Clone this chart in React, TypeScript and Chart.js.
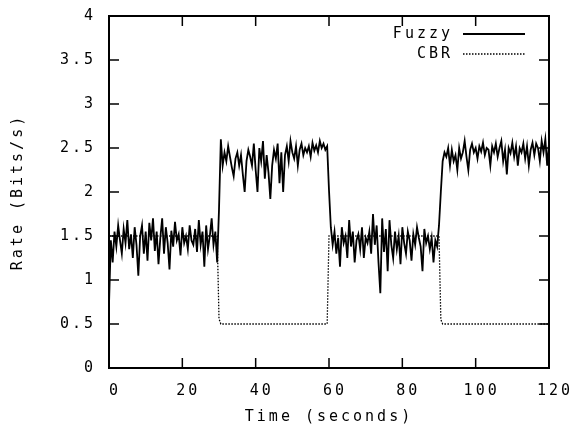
import { useEffect, useRef } from "react";
import { Chart, registerables } from "chart.js";

Chart.register(...registerables);

// ---- data ----
const SAMPLE_STEP = 0.5; // seconds between Fuzzy samples (starting at t = 0)

const fuzzyRates = [
  // 0 – 29.5 s
  0.72, 1.45, 1.2, 1.55, 1.38, 1.62, 1.45, 1.3, 1.58, 1.42,
  1.68, 1.35, 1.52, 1.25, 1.6, 1.4, 1.05, 1.5, 1.62, 1.3,
  1.55, 1.22, 1.65, 1.45, 1.7, 1.33, 1.55, 1.18, 1.48, 1.7,
  1.3, 1.6, 1.42, 1.12, 1.56, 1.38, 1.66, 1.45, 1.52, 1.28,
  1.6, 1.42, 1.5, 1.35, 1.62, 1.45, 1.4, 1.58, 1.32, 1.68,
  1.4, 1.55, 1.15, 1.62, 1.35, 1.5, 1.7, 1.4, 1.55, 1.2,
  // 30 – 59.5 s
  1.8, 2.6, 2.3, 2.45, 2.35, 2.52, 2.4, 2.28, 2.18, 2.38,
  2.45, 2.3, 2.42, 2.2, 2.0, 2.35, 2.48, 2.4, 2.3, 2.55,
  2.25, 2.0, 2.5, 2.35, 2.58, 2.15, 2.42, 2.22, 1.92, 2.3,
  2.48, 2.38, 2.55, 2.1, 2.45, 2.0, 2.42, 2.52, 2.35, 2.58,
  2.45, 2.38, 2.52, 2.3, 2.48, 2.55, 2.42, 2.5, 2.45, 2.52,
  2.4, 2.56, 2.47, 2.53, 2.45, 2.58, 2.5, 2.55, 2.48, 2.52,
  // 60 – 89.5 s
  2.02, 1.6, 1.4, 1.55, 1.3, 1.48, 1.15, 1.6, 1.42, 1.5,
  1.25, 1.68, 1.38, 1.55, 1.2, 1.45, 1.52, 1.35, 1.6, 1.25,
  1.48, 1.42, 1.55, 1.3, 1.75, 1.4, 1.62, 1.2, 0.85, 1.7,
  1.32, 1.58, 1.1, 1.68, 1.4, 1.25, 1.55, 1.35, 1.5, 1.18,
  1.6, 1.42, 1.3, 1.55, 1.45, 1.22, 1.52, 1.4, 1.6, 1.48,
  1.38, 1.1, 1.58, 1.42, 1.5, 1.35, 1.48, 1.2, 1.45, 1.38,
  // 90 – 120 s
  1.62, 2.0, 2.35, 2.45, 2.4, 2.5, 2.3, 2.48, 2.35, 2.42,
  2.25, 2.5, 2.38, 2.45, 2.58, 2.4, 2.25, 2.48, 2.55, 2.45,
  2.5, 2.38, 2.52, 2.46, 2.56, 2.42, 2.5, 2.48, 2.3, 2.52,
  2.45, 2.55, 2.4, 2.5, 2.58, 2.35, 2.48, 2.2, 2.5, 2.44,
  2.56, 2.4, 2.52, 2.3, 2.5, 2.45, 2.55, 2.38, 2.52, 2.3,
  2.48, 2.56, 2.42, 2.55, 2.5, 2.35, 2.58, 2.45, 2.6, 2.3,
  2.55,
];

const cbrTimes = [0, 29.5, 30, 30.5, 59.5, 60, 90, 90.5, 91, 120];
const cbrRates = [1.5, 1.5, 0.56, 0.5, 0.5, 1.5, 1.5, 0.55, 0.5, 0.5];

const seriesLabels = ["Fuzzy", "CBR"];
const xTitle = "Time (seconds)";
const yTitle = "Rate (Bits/s)";
const xRange = [0, 120];
const yRange = [0, 4];
const xStep = 20;
const yStep = 0.5;

// ---- style ----
const FONT_FAMILY = "'DejaVu Sans Mono', monospace";
const FONT_SIZE = 15;
const LETTER_SPACING = "3px";

const framePlugin = {
  id: "gnuplotFrame",
  beforeUpdate(chart: any) {
    chart.ctx.letterSpacing = LETTER_SPACING;
  },
  beforeLayout(chart: any) {
    chart.ctx.letterSpacing = LETTER_SPACING;
  },
  beforeDraw(chart: any) {
    chart.ctx.letterSpacing = LETTER_SPACING;
  },
  afterDatasetsDraw(chart: any) {
    const { ctx, chartArea, scales } = chart;
    const { left, right, top, bottom } = chartArea;
    const xs = scales.x;
    const ys = scales.y;
    ctx.save();
    ctx.strokeStyle = "#000";
    ctx.setLineDash([]);
    // inner ticks on all four sides
    ctx.lineWidth = 1.5;
    ctx.beginPath();
    xs.ticks.forEach((t: any) => {
      const px = xs.getPixelForValue(t.value);
      ctx.moveTo(px, bottom);
      ctx.lineTo(px, bottom - 10);
      ctx.moveTo(px, top);
      ctx.lineTo(px, top + 10);
    });
    ys.ticks.forEach((t: any) => {
      const py = ys.getPixelForValue(t.value);
      ctx.moveTo(left, py);
      ctx.lineTo(left + 10, py);
      ctx.moveTo(right, py);
      ctx.lineTo(right - 10, py);
    });
    ctx.stroke();
    // frame
    ctx.lineWidth = 2;
    ctx.strokeRect(left, top, right - left, bottom - top);

    // legend (gnuplot style: right-aligned text, sample line to its right)
    ctx.letterSpacing = LETTER_SPACING;
    ctx.font = `${FONT_SIZE}px ${FONT_FAMILY}`;
    ctx.fillStyle = "#000";
    ctx.textAlign = "right";
    ctx.textBaseline = "middle";
    chart.data.datasets.forEach((ds: any, i: number) => {
      const y = top + 18 + i * 20;
      ctx.fillText(ds.label, 453, y);
      ctx.save();
      ctx.strokeStyle = ds.borderColor;
      ctx.lineWidth = ds.borderWidth;
      ctx.setLineDash(ds.borderDash || []);
      ctx.beginPath();
      ctx.moveTo(463, y);
      ctx.lineTo(525, y);
      ctx.stroke();
      ctx.restore();
    });
    ctx.restore();
  },
};

export default function App() {
  const canvasRef = useRef<HTMLCanvasElement | null>(null);

  useEffect(() => {
    const canvas = canvasRef.current;
    if (!canvas) return;
    const font = { family: FONT_FAMILY, size: FONT_SIZE };
    const chart = new Chart(canvas, {
      type: "line",
      data: {
        datasets: [
          {
            label: seriesLabels[0],
            data: fuzzyRates.map((v, i) => ({ x: i * SAMPLE_STEP, y: v })),
            borderColor: "#000",
            borderWidth: 1.8,
            pointRadius: 0,
            tension: 0,
            fill: false,
          },
          {
            label: seriesLabels[1],
            data: cbrTimes.map((t, i) => ({ x: t, y: cbrRates[i] })),
            borderColor: "#000",
            borderWidth: 1.3,
            borderDash: [1.5, 1.5],
            pointRadius: 0,
            tension: 0,
            fill: false,
          },
        ],
      },
      options: {
        animation: false,
        responsive: false,
        devicePixelRatio: 1,
        layout: { padding: { left: 0, top: 16, right: 36, bottom: 0 } },
        plugins: {
          legend: { display: false },
          tooltip: { enabled: false },
        },
        scales: {
          x: {
            type: "linear",
            min: xRange[0],
            max: xRange[1],
            grid: { display: false },
            border: { display: false },
            ticks: { stepSize: xStep, padding: 6, labelOffset: 6, color: "#000", font, maxRotation: 0 },
            title: { display: true, text: xTitle, color: "#000", font, padding: { top: 0, bottom: 0 } },
            afterFit(scale: any) {
              scale.height = 58;
            },
          },
          y: {
            type: "linear",
            min: yRange[0],
            max: yRange[1],
            grid: { display: false },
            border: { display: false },
            ticks: {
              stepSize: yStep,
              padding: 5,
              color: "#000",
              font,
              callback: (v: any) => String(Number(v)),
            },
            title: { display: true, text: yTitle, color: "#000", font, padding: { top: 9, bottom: 0 } },
            afterFit(scale: any) {
              scale.width = 109;
              scale.paddingTop = 0;
              scale.paddingBottom = 0;
            },
          },
        },
      },
      plugins: [framePlugin],
    } as any);
    return () => chart.destroy();
  }, []);

  return (
    <div style={{ position: "fixed", left: 0, top: 0, width: 585, height: 426, background: "#fff" }}>
      <canvas ref={canvasRef} width={585} height={426} style={{ display: "block" }} />
    </div>
  );
}
